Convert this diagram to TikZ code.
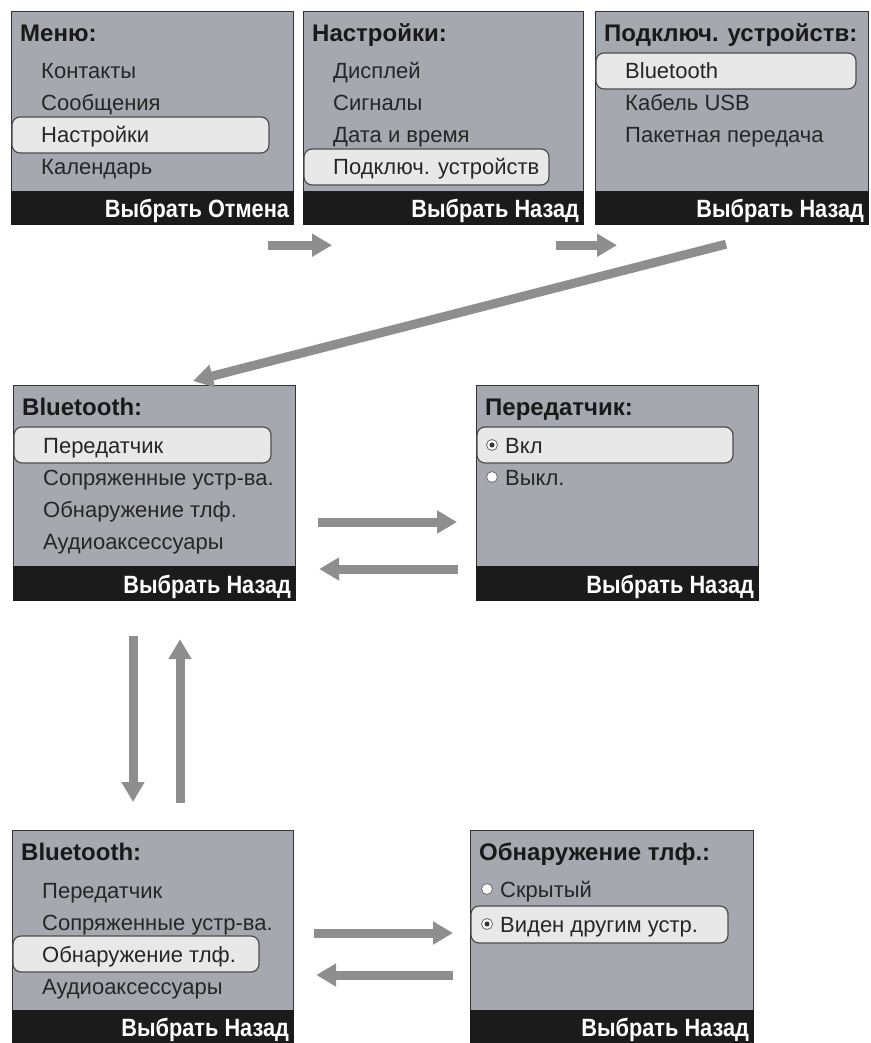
\documentclass[tikz,border=0pt]{standalone}
\usepackage{fontspec}
\setmainfont{Liberation Sans}
\newfontfamily\softkeyfont{Liberation Sans}[FakeStretch=0.87]
\usetikzlibrary{arrows.meta}
\definecolor{lcd}{HTML}{A6A8AF}
\definecolor{softbar}{HTML}{1B1B1B}
\definecolor{hilite}{HTML}{E8E8E8}
\definecolor{flowgray}{HTML}{8E8E8E}

\begin{document}
\begin{tikzpicture}[x=1pt, y=-1pt,
  screen/.style={draw=black!80, line width=1.2pt, fill=lcd, anchor=north west,
    inner sep=0pt, minimum width=282pt, minimum height=213pt},
  hl/.style={draw=black!70, line width=1.2pt, fill=hilite, rounded corners=8pt},
  title/.style={anchor=west, inner sep=0pt, text height=21pt, text depth=4pt,
    text=black!90, font=\bfseries\fontsize{24}{26}\selectfont},
  item/.style={anchor=west, inner sep=0pt, text height=20pt, text depth=4pt,
    text=black!85, font=\fontsize{22}{24}\selectfont},
  softkeys/.style={anchor=east, inner sep=0pt, text height=22pt, text depth=4pt,
    text=white, font=\softkeyfont\bfseries\fontsize{25}{27}\selectfont},
  radio/.style={fill=white, draw=black!55, line width=0.9pt},
  flow/.style={draw=flowgray, line width=9pt, -{Triangle[width=22pt,length=20pt]}}]
  \useasboundingbox (0,0) rectangle (870,1043);

  % Меню
  \node[screen] (menu) at (11,11) {};
  \fill[softbar] (menu.south west) rectangle ([yshift=34pt]menu.south east);
  \draw[hl] ([shift={(1,106)}]menu.north west) rectangle ++(257,36);
  \node[title] (menu-t) at ([shift={(9,22)}]menu.north west) {Меню:};
  \foreach \t [count=\i] in {Контакты,Сообщения,Настройки,Календарь}
    \node[item] (menu-\i) at ([shift={(30,28+32*\i)}]menu.north west) {\t};
  \node[softkeys] (menu-k) at ([shift={(-5,-17)}]menu.south east) {Выбрать Отмена};

  % Настройки
  \node[screen, minimum width=280pt] (setup) at (303,11) {};
  \fill[softbar] (setup.south west) rectangle ([yshift=34pt]setup.south east);
  \draw[hl] ([shift={(1,138)}]setup.north west) rectangle ++(245,36);
  \node[title] (setup-t) at ([shift={(9,22)}]setup.north west) {Настройки:};
  \foreach \t [count=\i] in {Дисплей,Сигналы,Дата и время,Подключ. устройств}
    \node[item] (setup-\i) at ([shift={(30,28+32*\i)}]setup.north west) {\t};
  \node[softkeys] (setup-k) at ([shift={(-5,-17)}]setup.south east) {Выбрать Назад};

  % Подключ. устройств
  \node[screen, minimum width=273pt] (conn) at (595,11) {};
  \fill[softbar] (conn.south west) rectangle ([yshift=34pt]conn.south east);
  \draw[hl] ([shift={(1,42)}]conn.north west) rectangle ++(260,36);
  \node[title] (conn-t) at ([shift={(9,22)}]conn.north west) {Подключ. устройств:};
  \foreach \t [count=\i] in {Bluetooth,Кабель USB,Пакетная передача}
    \node[item] (conn-\i) at ([shift={(30,28+32*\i)}]conn.north west) {\t};
  \node[softkeys] (conn-k) at ([shift={(-5,-17)}]conn.south east) {Выбрать Назад};

  % Bluetooth (Передатчик)
  \node[screen, minimum height=215pt] (bt) at (13,385) {};
  \fill[softbar] (bt.south west) rectangle ([yshift=35pt]bt.south east);
  \draw[hl] ([shift={(1,42)}]bt.north west) rectangle ++(257,36);
  \node[title] (bt-t) at ([shift={(9,22)}]bt.north west) {Bluetooth:};
  \foreach \t [count=\i] in {Передатчик,Сопряженные устр-ва.,Обнаружение тлф.,Аудиоаксессуары}
    \node[item] (bt-\i) at ([shift={(30,28+32*\i)}]bt.north west) {\t};
  \node[softkeys] (bt-k) at ([shift={(-5,-17)}]bt.south east) {Выбрать Назад};

  % Передатчик
  \node[screen, minimum height=215pt] (tx) at (476,385) {};
  \fill[softbar] (tx.south west) rectangle ([yshift=35pt]tx.south east);
  \draw[hl] ([shift={(1,42)}]tx.north west) rectangle ++(256,36);
  \node[title] (tx-t) at ([shift={(9,22)}]tx.north west) {Передатчик:};
  \node[item] (tx-1) at ([shift={(29,60)}]tx.north west) {Вкл};
  \node[item] (tx-2) at ([shift={(29,92)}]tx.north west) {Выкл.};
  \draw[radio] ([shift={(16,60)}]tx.north west) circle (5.5pt);
  \fill[black!80] ([shift={(16,60)}]tx.north west) circle (2.5pt);
  \draw[radio] ([shift={(16,92)}]tx.north west) circle (5.5pt);
  \node[softkeys] (tx-k) at ([shift={(-5,-17)}]tx.south east) {Выбрать Назад};

  % Bluetooth (Обнаружение тлф.)
  \node[screen, minimum width=281pt] (bt2) at (12,830) {};
  \fill[softbar] (bt2.south west) rectangle ([yshift=34pt]bt2.south east);
  \draw[hl] ([shift={(1,106)}]bt2.north west) rectangle ++(246,36);
  \node[title] (bt2-t) at ([shift={(9,22)}]bt2.north west) {Bluetooth:};
  \foreach \t [count=\i] in {Передатчик,Сопряженные устр-ва.,Обнаружение тлф.,Аудиоаксессуары}
    \node[item] (bt2-\i) at ([shift={(30,28+32*\i)}]bt2.north west) {\t};
  \node[softkeys] (bt2-k) at ([shift={(-5,-17)}]bt2.south east) {Выбрать Назад};

  % Обнаружение тлф.
  \node[screen, minimum width=283pt] (vis) at (470,830) {};
  \fill[softbar] (vis.south west) rectangle ([yshift=34pt]vis.south east);
  \draw[hl] ([shift={(1,76)}]vis.north west) rectangle ++(257,37);
  \node[title] (vis-t) at ([shift={(9,22)}]vis.north west) {Обнаружение тлф.:};
  \node[item] (vis-1) at ([shift={(30,59)}]vis.north west) {Скрытый};
  \node[item] (vis-2) at ([shift={(30,94)}]vis.north west) {Виден другим устр.};
  \draw[radio] ([shift={(17,59)}]vis.north west) circle (5.5pt);
  \draw[radio] ([shift={(17,94)}]vis.north west) circle (5.5pt);
  \fill[black!80] ([shift={(17,94)}]vis.north west) circle (2.5pt);
  \node[softkeys] (vis-k) at ([shift={(-5,-17)}]vis.south east) {Выбрать Назад};

  % переходы
  \draw[flow] ([shift={(-26,20)}]menu.south east) -- ([shift={(29,20)}]setup.south west);
  \draw[flow] ([shift={(-28,20)}]setup.south east) -- ([shift={(22,20)}]conn.south west);
  \draw[flow] ([shift={(131,19)}]conn.south west) -- ([shift={(180,-4)}]bt.north west);
  \draw[flow] ([shift={(22,137)}]bt.north east) -- ([shift={(-19,137)}]tx.north west);
  \draw[flow] ([shift={(-18,184)}]tx.north west) -- ([shift={(23,184)}]bt.north east);
  \draw[flow] ([shift={(120,35)}]bt.south west) -- ([shift={(121,-28)}]bt2.north west);
  \draw[flow] ([shift={(168,-27)}]bt2.north west) -- ([shift={(167,38)}]bt.south west);
  \draw[flow] ([shift={(20,103)}]bt2.north east) -- ([shift={(-17,103)}]vis.north west);
  \draw[flow] ([shift={(-17,145)}]vis.north west) -- ([shift={(22,145)}]bt2.north east);
\end{tikzpicture}
\end{document}
